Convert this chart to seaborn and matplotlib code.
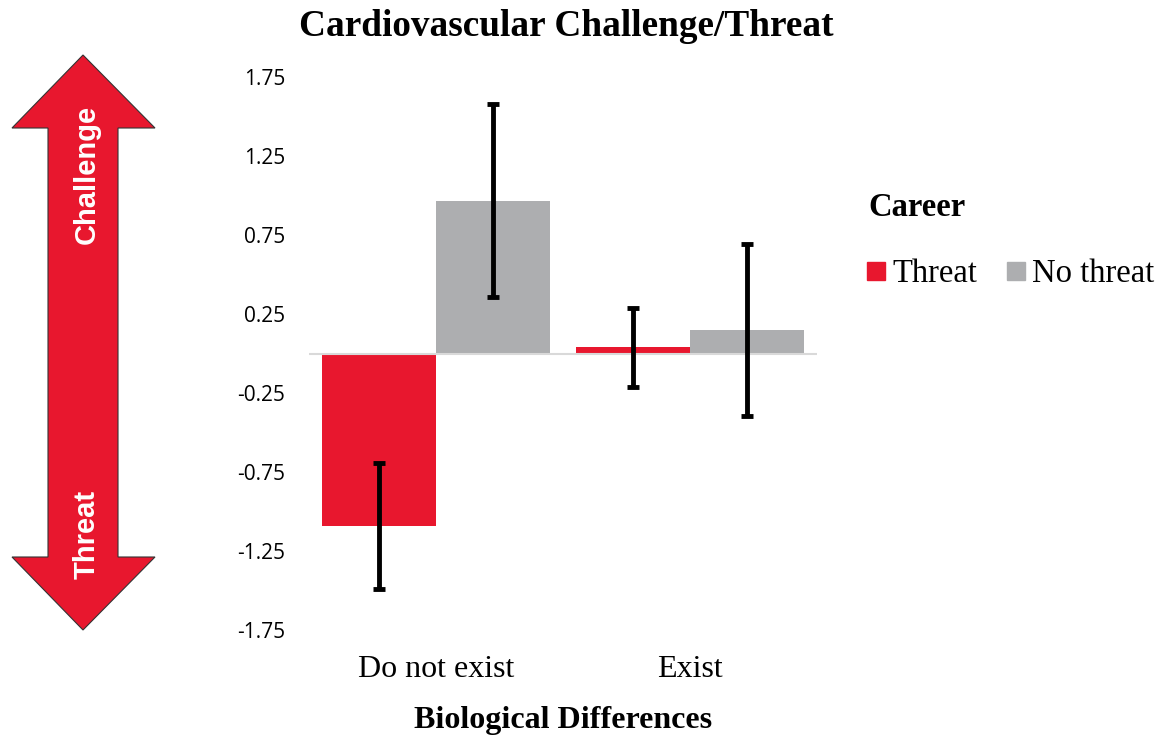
import matplotlib
matplotlib.use("Agg")
import matplotlib.pyplot as plt
import seaborn as sns
import pandas as pd
from matplotlib.patches import Polygon
from matplotlib.lines import Line2D

# ---- data ----
bio_levels = ["Do not exist", "Exist"]
career_levels = ["Threat", "No threat"]
threat_means = [-1.09, 0.04]
threat_err = [0.40, 0.25]
nothreat_means = [0.967, 0.15]
nothreat_err = [0.61, 0.545]
yticks = [-1.75, -1.25, -0.75, -0.25, 0.25, 0.75, 1.25, 1.75]

colors = {"Threat": "#E8172E", "No threat": "#ADAEB0"}

df = pd.DataFrame({
    "bio": bio_levels * 2,
    "career": [career_levels[0]] * 2 + [career_levels[1]] * 2,
    "value": threat_means + nothreat_means,
    "err": threat_err + nothreat_err,
})

sns.set_theme(style="white")
plt.rcParams["text.color"] = "black"
plt.rcParams["axes.labelcolor"] = "black"
plt.rcParams["xtick.color"] = "black"
plt.rcParams["ytick.color"] = "black"

W, H = 1157, 735
fig = plt.figure(figsize=(W / 100, H / 100), dpi=100)
ax = fig.add_axes([309 / W, 1 - 630 / H, 508 / W, 553 / H])

sns.barplot(data=df, x="bio", y="value", hue="career", order=bio_levels,
            hue_order=career_levels, palette=colors, errorbar=None,
            width=0.9, saturation=1, legend=False, ax=ax, linewidth=0)

# error bars at bar centres
patches = sorted(ax.patches, key=lambda p: p.get_x())
order_rows = []
for b in bio_levels:
    for c in career_levels:
        order_rows.append(df[(df.bio == b) & (df.career == c)].iloc[0])
for p, row in zip(patches, order_rows):
    cx = p.get_x() + p.get_width() / 2
    ax.errorbar(cx, row["value"], yerr=row["err"], fmt="none", ecolor="black",
                elinewidth=3.5, capsize=4.5, capthick=3.5, zorder=5)

ax.axhline(0, color="#D9D9D9", lw=1.5, zorder=1)
ax.set_xlim(-0.5, 1.5)
ax.set_ylim(-1.75, 1.75)
ax.set_yticks(yticks)
ax.set_yticklabels([f"{t:.2f}" for t in yticks], fontfamily="Open Sans",
                   fontsize=15, color="black")
ax.tick_params(axis="y", length=0, pad=17)
ax.tick_params(axis="x", length=0, pad=18)
for lbl in ax.get_xticklabels():
    lbl.set_fontfamily("Liberation Serif")
    lbl.set_fontsize(23)
    lbl.set_color("black")
for s in ax.spines.values():
    s.set_visible(False)
ax.set_ylabel("")
ax.set_xlabel("Biological Differences", fontfamily="Liberation Serif",
              fontsize=23, fontweight="bold", labelpad=16, color="black")

fig.text(566 / W, 1 - 26 / H, "Cardiovascular Challenge/Threat",
         fontfamily="Liberation Serif", fontsize=26.8, fontweight="bold",
         ha="center", va="center", color="black")

# legend
fig.text(868 / W, 1 - 207 / H, "Career", fontfamily="Liberation Serif",
         fontsize=23.5, fontweight="bold", ha="left", va="center", color="black")
handles = [Line2D([], [], marker="s", linestyle="none", markersize=13,
                  markerfacecolor=colors[c], markeredgecolor=colors[c], label=c)
           for c in career_levels]
fig.legend(handles=handles, loc="center left", bbox_to_anchor=(866 / W, 1 - 274 / H),
           ncol=2, frameon=False, prop={"family": "Liberation Serif", "size": 23.5},
           handletextpad=0.2, columnspacing=0.9, handlelength=0.6, borderpad=0,
           borderaxespad=0, labelcolor="black")

# double-headed arrow decoration
pts_px = [(83, 55), (155, 128), (118, 128), (118, 557), (155, 557), (83, 630),
          (12, 557), (48, 557), (48, 128), (12, 128)]
pts = [(x / W, 1 - y / H) for x, y in pts_px]
fig.patches.append(Polygon(pts, closed=True, transform=fig.transFigure,
                           facecolor="#E8172E", edgecolor="#333333", lw=0.8))
fig.text(87 / W, 1 - 174 / H, "Challenge", color="white", rotation=90,
         fontfamily="Liberation Sans", fontweight="bold", fontsize=21,
         ha="center", va="center")
fig.text(87 / W, 1 - 534 / H, "Threat", color="white", rotation=90,
         fontfamily="Liberation Sans", fontweight="bold", fontsize=21,
         ha="center", va="center")

fig.savefig("out.png", dpi=100)
